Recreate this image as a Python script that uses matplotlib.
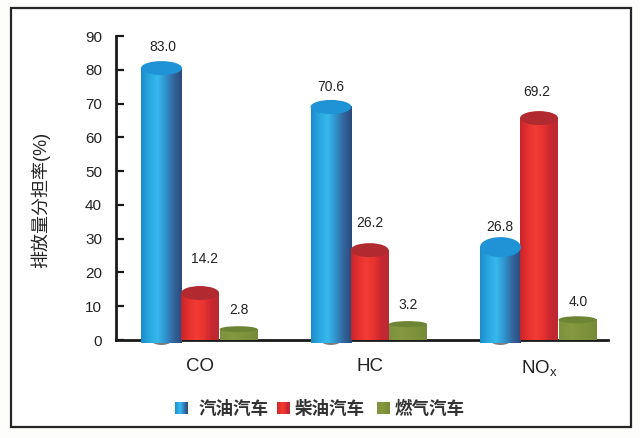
import numpy as np
import matplotlib
matplotlib.use('Agg')
import matplotlib.pyplot as plt
from matplotlib.colors import LinearSegmentedColormap
from matplotlib.patches import Ellipse, PathPatch, Rectangle
from matplotlib.path import Path

plt.rcParams['font.family'] = ['Liberation Sans', 'Noto Sans CJK SC', 'DejaVu Sans']
plt.rcParams['mathtext.default'] = 'regular'

categories = ['CO', 'HC', 'NO$_{x}$']
series_names = ['汽油汽车', '柴油汽车', '燃气汽车']
# drawn heights (they differ a little from the printed labels)
gasoline = [80.5, 69.0, 27.5]
diesel = [13.9, 26.6, 65.7]
natural_gas = [3.2, 4.7, 6.0]
gasoline_labels = ['83.0', '70.6', '26.8']
diesel_labels = ['14.2', '26.2', '69.2']
natural_gas_labels = ['2.8', '3.2', '4.0']
yticks = [0, 10, 20, 30, 40, 50, 60, 70, 80, 90]

W, H = 640, 438
px_per_group = 169.5
px_per_unit = 304 / 90


def cylinder_cmap(colors):
    return LinearSegmentedColormap.from_list('c', colors)


styles = [
    dict(values=gasoline, labels=gasoline_labels, offset=-38.5, width=41, top_ry=[7, 7, 10], bot_ry=10, bot_up=7,
         cmap=cylinder_cmap(['#1c8ccb', '#29a6e0', '#38b8ee', '#2f94cc', '#34659c', '#2a4a7c']),
         top='#1f93d6', gaps=[21, 20, 20], label_dx=[1, 0, -1]),
    dict(values=diesel, labels=diesel_labels, offset=0, width=38, top_ry=[7, 7, 7], bot_ry=5, bot_up=5,
         cmap=cylinder_cmap(['#c8242c', '#e4302f', '#f23c34', '#e8332f', '#c92730', '#b92a33']),
         top='#b12a30', gaps=[34, 27, 26], label_dx=[4, 0, -2]),
    dict(values=natural_gas, labels=natural_gas_labels, offset=38.5, width=38, top_ry=[3, 3, 3.5], bot_ry=0, bot_up=0,
         cmap=cylinder_cmap(['#7d9140', '#86993f', '#7f923c', '#768a3a']),
         top='#6d8435', gaps=[19, 19, 18], label_dx=[0, 0, 1]),
]

fig = plt.figure(figsize=(W / 100, H / 100), dpi=100, facecolor='#fdfdfb')
fig.add_artist(Rectangle((11 / W, 1 - 427 / H), 620 / W, 419 / H, transform=fig.transFigure,
                         facecolor='white', edgecolor='#262626', linewidth=1.6, zorder=-1))

ax = fig.add_axes([116 / W, 1 - 340 / H, 492 / W, 304 / H])
ax.patch.set_alpha(0)
gradient = np.linspace(0, 1, 256).reshape(1, -1)

for st in styles:
    for i, (val, lab) in enumerate(zip(st['values'], st['labels'])):
        cx = i + st['offset'] / px_per_group
        hw = st['width'] / 2 / px_per_group
        bot_y = st['bot_up'] / px_per_unit
        bot_h = st['bot_ry'] / px_per_unit

        # soft shadow below the tall blue bars
        if st['offset'] < 0:
            ax.add_patch(Ellipse((cx, bot_y), 2 * hw * 0.75, 2 * bot_h * 1.2, facecolor='#55504c',
                                 edgecolor='none', zorder=2.8, clip_on=False, alpha=0.75))

        t = np.linspace(np.pi, 2 * np.pi, 40)
        xs = np.r_[cx - hw, cx - hw + 0, cx + hw * np.cos(t), cx + hw, cx - hw]
        ys = np.r_[val, bot_y, bot_y + bot_h * np.sin(t), val, val]
        body = PathPatch(Path(np.column_stack([xs, ys])), transform=ax.transData, facecolor='none', edgecolor='none')
        ax.add_patch(body)
        im = ax.imshow(gradient, extent=[cx - hw, cx + hw, bot_y - bot_h, val], aspect='auto',
                       cmap=st['cmap'], zorder=3, clip_on=False)
        im.set_clip_path(body)

        ax.add_patch(Ellipse((cx, val), 2 * hw, 2 * st['top_ry'][i] / px_per_unit, facecolor=st['top'],
                             edgecolor='none', zorder=3.2))
        ax.annotate(lab, (cx, val), xytext=(st['label_dx'][i], st['gaps'][i]), textcoords='offset pixels',
                    ha='center', va='center', fontsize=10, color='#222222', zorder=4)

ax.set_xlim(-84 / px_per_group, 408 / px_per_group)
ax.set_ylim(0, 90)
ax.spines['top'].set_visible(False)
ax.spines['right'].set_visible(False)
ax.spines['left'].set_linewidth(2)
ax.spines['bottom'].set_linewidth(2)
ax.spines['left'].set_color('#1a1a1a')
ax.spines['bottom'].set_color('#1a1a1a')

ax.set_yticks(yticks)
ax.tick_params(axis='y', direction='in', length=6, width=1.6, pad=10, labelsize=11, labelcolor='#222222', color='#1a1a1a')
ax.set_xticks(range(3))
ax.set_xticklabels(categories, fontsize=13.5, color='#222222')
ax.tick_params(axis='x', length=0, pad=13)
ax.set_ylabel('排放量分担率(%)', fontsize=13, color='#222222', labelpad=25, y=0.46)

# legend swatches and names
swatch_left = [175, 277, 377]
text_left = [199, 295, 395]
for st, name, sx, tx in zip(styles, series_names, swatch_left, text_left):
    sw = fig.add_axes([sx / W, 1 - 414 / H, 13 / W, 12 / H])
    sw.imshow(gradient, aspect='auto', cmap=st['cmap'])
    sw.axis('off')
    fig.text(tx / W, 1 - 408 / H, name, fontsize=12.6, fontweight='bold', color='#333333', va='center', ha='left')

fig.savefig('out.png', dpi=100, facecolor=fig.get_facecolor())
